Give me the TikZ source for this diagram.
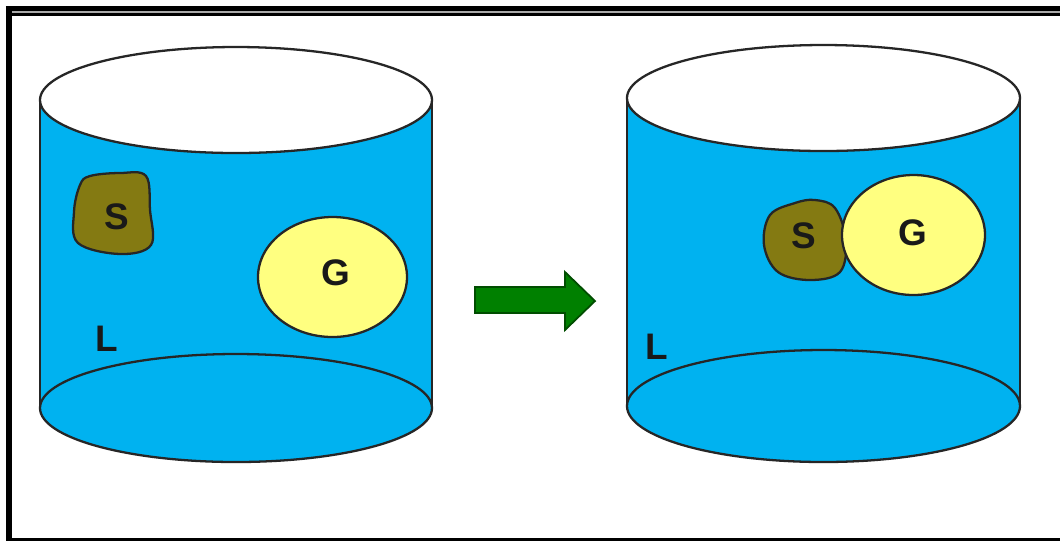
\documentclass[tikz,border=0pt]{standalone}
\usepackage{fontspec}
\setmainfont{Liberation Sans}
\usetikzlibrary{positioning}

\definecolor{liquidblue}{RGB}{0,178,240}
\definecolor{solidolive}{RGB}{132,122,18}
\definecolor{gasyellow}{RGB}{255,255,128}
\definecolor{arrowgreen}{RGB}{0,128,0}
\definecolor{framegray}{RGB}{170,170,170}

\begin{document}
\begin{tikzpicture}[x=0.01cm,y=0.01cm,
  outline/.style={draw=black!85,line width=0.65pt},
  liquid/.style={fill=liquidblue},
  solid/.style={outline,fill=solidolive},
  gas/.style={outline,fill=gasyellow},
  phase/.style={font=\fontsize{10.5}{13}\selectfont\bfseries,text=black!90,inner sep=0pt}]
\useasboundingbox (0,0) rectangle (1060,-541);
\fill[white] (0,0) rectangle (1060,-541);
% Frame
\draw[black,line width=1.2pt] (6,-8.5) -- (1060,-8.5);
\draw[framegray,line width=0.6pt] (12,-12) -- (1060,-12);
\draw[black,line width=0.9pt] (12,-14.5) -- (1060,-14.5);
\draw[black,line width=1.7pt] (9,-6) -- (9,-541);
\draw[black,line width=0.9pt] (9,-539.5) -- (1060,-539.5);
% Cylinders
\foreach \cx/\rx/\ty/\by/\rb in {236/196/100/408/54, 823.5/196.5/98/406/56} {
  \fill[liquid] (\cx-\rx,-\ty) -- (\cx-\rx,-\by)
    arc[start angle=180,end angle=360,x radius=\rx,y radius=\rb]
    -- (\cx+\rx,-\ty) -- cycle;
  \draw[outline] (\cx-\rx,-\ty) -- (\cx-\rx,-\by);
  \draw[outline] (\cx+\rx,-\ty) -- (\cx+\rx,-\by);
  \draw[outline] (\cx,-\by) ellipse [x radius=\rx,y radius=\rb];
  \draw[outline,fill=white] (\cx,-\ty) ellipse [x radius=\rx,y radius=53];
}
% Before: solid and gas apart
\draw[solid] plot[smooth cycle,tension=0.6] coordinates
  {(90,-176) (120,-173) (146,-176) (150,-210) (151,-245) (120,-254) (78,-243) (74,-212) (80,-185)};
\draw[gas] (332.5,-277) ellipse [x radius=74.5,y radius=60];
\node[phase] (sL) at (117,-217) {S};
\node[phase] (gL) at (336,-273) {G};
\node[phase] (lL) at (107,-339) {L};
% Change
\draw[fill=arrowgreen,draw=arrowgreen!60!black,line width=0.5pt]
  (475,-287) -- (565,-287) -- (565,-272) -- (595,-301) -- (565,-330) -- (565,-313) -- (475,-313) -- cycle;
% After: solid attached to gas
\draw[solid] plot[smooth cycle,tension=0.6] coordinates
  {(770,-215) (795,-203) (815,-200) (835,-208) (846,-240) (840,-272) (810,-280) (778,-272) (764,-245)};
\draw[gas] (913.5,-235) ellipse [x radius=71.5,y radius=60];
\node[phase] (sR) at (804,-236) {S};
\node[phase] (gR) at (913,-233) {G};
\node[phase] (lR) at (657,-347) {L};
\end{tikzpicture}
\end{document}
